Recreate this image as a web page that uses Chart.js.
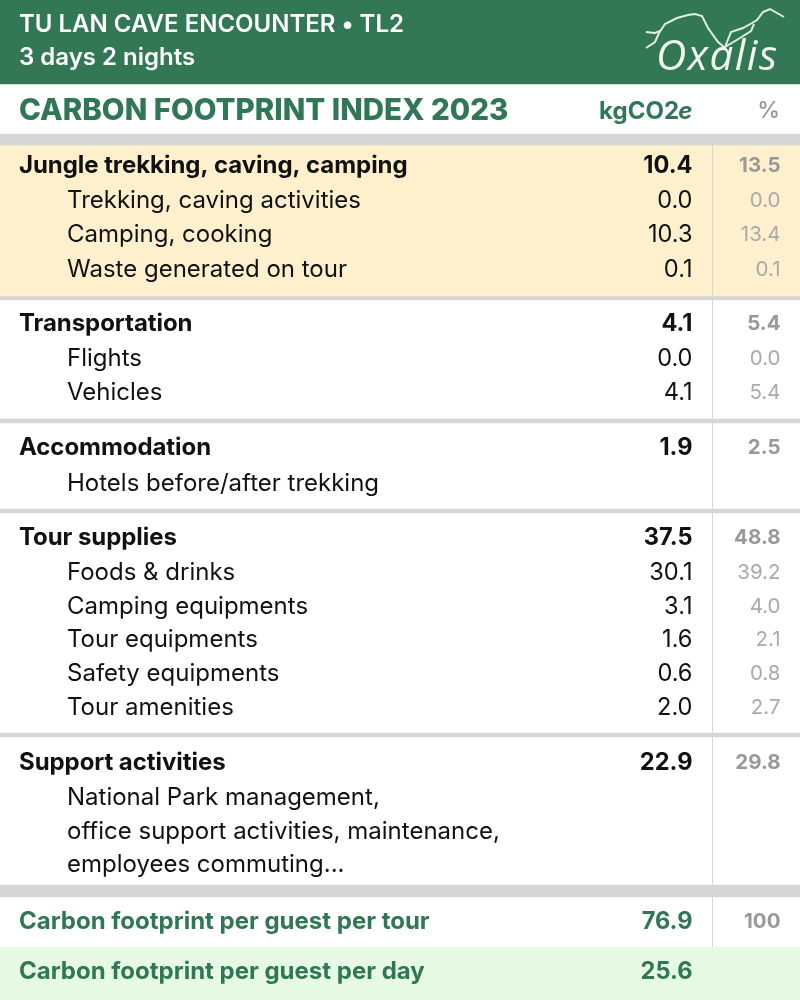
<!DOCTYPE html>
<html><head><meta charset="utf-8">
<style>html,body{margin:0;padding:0;background:#fff}canvas{display:block}</style>
<script src="https://cdn.jsdelivr.net/npm/chart.js@4"></script>
</head><body>
<canvas id="c" width="800" height="1000" style="width:800px;height:1000px"></canvas>
<script>
// ---- content ----
const tourTitle = "TU LAN CAVE ENCOUNTER • TL2";
const tourSubtitle = "3 days 2 nights";
const indexTitle = "CARBON FOOTPRINT INDEX 2023";
const unitLabel = "kgCO2";
const unitSuffix = "e";
const pctLabel = "%";
const brand = "Oxalis";
const rowNames = ["Jungle trekking, caving, camping","Trekking, caving activities","Camping, cooking","Waste generated on tour","Transportation","Flights","Vehicles","Accommodation","Hotels before/after trekking","Tour supplies","Foods & drinks","Camping equipments","Tour equipments","Safety equipments","Tour amenities","Support activities","National Park management,","office support activities, maintenance,","employees commuting..."];
const rowKg = ["10.4","0.0","10.3","0.1","4.1","0.0","4.1","1.9","","37.5","30.1","3.1","1.6","0.6","2.0","22.9","","",""];
const rowPct = ["13.5","0.0","13.4","0.1","5.4","0.0","5.4","2.5","","48.8","39.2","4.0","2.1","0.8","2.7","29.8","","",""];
const rowIsGroup = [1,0,0,0,1,0,0,1,0,1,0,0,0,0,0,1,0,0,0];
const totalNames = ["Carbon footprint per guest per tour","Carbon footprint per guest per day"];
const totalKg = ["76.9","25.6"];
const totalPct = ["100",""];
// ---- layout (scale units = px of the 800x1000 frame) ----
const rowCentres = [165.5,200.5,234.5,269.5,323.5,358.5,392.5,447.5,483.5,537.5,572.5,606.5,639.5,673.5,707.5,762.5,797.5,831.5,864.5];
const totalCentres = [921.5,971.5];
const bandSpans = [[0,84],[134,145],[145,296],[296,300],[419,423],[509,513],[733,737],[885,897],[947,1000]];
const bandColours = ["#327855","#d6d6d6","#fef0cd","#d6d6d6","#d6d6d6","#d6d6d6","#d6d6d6","#d6d6d6","#e6f9e3"];
const dividerX = 712.5;
const dividerSpan = [145,947];
const logoRidge = [[646,48],[655,42],[659,33],[665,24],[677,18],[688,15],[695,14],[702,16],[708,28],[718,42],[725,48],[727,42],[731,32],[743,28],[752,23],[757,20],[763,12],[770,9],[777,13],[784,17]];
const logoFork = [[646,32],[655,33],[660,31]];
const logoInner = [[725,47],[740,38],[751,31],[754,24]];

const GREEN = "#2f7755", INK = "#111111";
const toPts = a => a.map(p => ({x:p[0],y:p[1]}));
const bandSets = bandSpans.map((s,i)=>({type:'bar',data:[{x:400,y:s}],backgroundColor:bandColours[i],barThickness:800,borderWidth:0,order:5}));
const lineSet = (pts,col,w,ord)=>({type:'line',data:toPts(pts),borderColor:col,borderWidth:w,pointRadius:0,fill:false,tension:0,order:ord});

const textPlugin = {
  id:'tableText',
  afterDatasetsDraw(chart){
    const ctx = chart.ctx, X = chart.scales.x, Y = chart.scales.y;
    const put = (s,x,y,font,col,align,sp)=>{
      if(!s) return;
      ctx.font = font; ctx.fillStyle = col; ctx.textAlign = align||'left'; ctx.textBaseline='middle';
      ctx.letterSpacing = sp||'0px';
      ctx.fillText(s,X.getPixelForValue(x),Y.getPixelForValue(y));
    };
    ctx.save();
    const F = "Inter, sans-serif";
    put(tourTitle,19,24.5,`600 24px ${F}`,"#fff");
    put(tourSubtitle,19,57.5,`600 24px ${F}`,"#fff");
    put(indexTitle,19,111.5,`800 29.5px ${F}`,GREEN);
    put(unitSuffix,692.5,111.5,`italic 700 24px ${F}`,GREEN,'right');
    put(unitLabel,679,111.5,`700 24px ${F}`,GREEN,'right');
    put(pctLabel,780,111.5,`500 23px ${F}`,"#999",'right');
    rowNames.forEach((n,i)=>{
      const g = rowIsGroup[i], y = rowCentres[i];
      put(n,g?19:67,y,`${g?700:400} 24px ${F}`,INK,'left',g?'-0.06px':'0px');
      put(rowKg[i],692.5,y,`${g?700:400} 23.6px ${F}`,INK,'right');
      put(rowPct[i],780.5,y,`${g?700:400} 20.5px ${F}`,g?"#999":"#aaa",'right');
    });
    totalNames.forEach((n,i)=>{
      const y = totalCentres[i];
      put(n,19,y,`700 24px ${F}`,GREEN);
      put(totalKg[i],692.5,y,`700 23.6px ${F}`,GREEN,'right');
      put(totalPct[i],780.5,y,`700 20.5px ${F}`,"#999",'right');
    });
    put(brand,656,58,`italic 500 42px "Open Sans", sans-serif`,"#f0f8f0",'left','1.5px');
    ctx.restore();
  }
};
new Chart(document.getElementById('c'),{
  data:{datasets:[
    ...bandSets,
    lineSet([[dividerX,dividerSpan[0]],[dividerX,dividerSpan[1]]],"#d6d6d6",1,1),
    lineSet(logoRidge,"#dff0e2",2,1),lineSet(logoFork,"#dff0e2",2,1),lineSet(logoInner,"#dff0e2",2,1)
  ]},
  options:{
    responsive:false,animation:false,devicePixelRatio:1,
    layout:{padding:0},
    plugins:{legend:{display:false},tooltip:{enabled:false},title:{display:false}},
    scales:{
      x:{type:'linear',min:0,max:800,stacked:true,display:false,offset:false},
      y:{type:'linear',min:0,max:1000,reverse:true,display:false}
    }
  },
  plugins:[textPlugin]
});
</script></body></html>
